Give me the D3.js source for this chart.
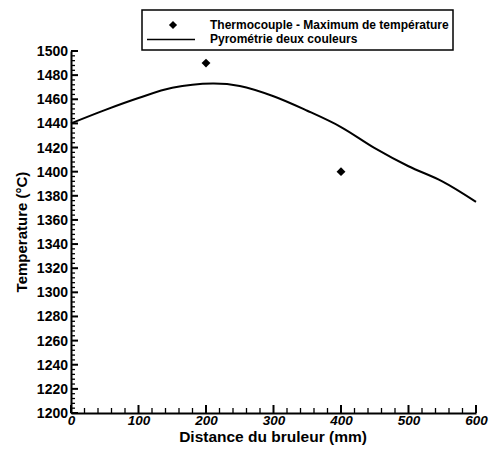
<!DOCTYPE html>
<html>
<head>
<meta charset="utf-8">
<script src="https://cdn.jsdelivr.net/npm/d3@7"></script>
<style>
  html, body { margin: 0; padding: 0; background: #fff; }
  svg { display: block; }
  text { font-family: "Liberation Sans", Arial, Helvetica, sans-serif; fill: #000; }
</style>
</head>
<body>
<script>
// Pyrometry profile (two-colour) along the burner axis
const pyroDistance = [0, 50, 100, 150, 210, 250, 300, 350, 400, 450, 500, 550, 600];
const pyroTemp     = [1440, 1451, 1461, 1469.5, 1473, 1471, 1462.5, 1450.5, 1437, 1419.5, 1404.5, 1392, 1375];

// Thermocouple maxima
const tcDistance = [200, 400];
const tcTemp     = [1490, 1400];

const xTicks = [0, 100, 200, 300, 400, 500, 600];
const yTicks = [1200, 1220, 1240, 1260, 1280, 1300, 1320, 1340, 1360, 1380, 1400, 1420, 1440, 1460, 1480, 1500];

const legendLabels = ["Thermocouple - Maximum de température", "Pyrométrie deux couleurs"];
const xTitle = "Distance du bruleur (mm)";
const yTitle = "Temperature (°C)";

const W = 490, H = 450;
const svg = d3.select("body").append("svg").attr("width", W).attr("height", H);

const x = d3.scaleLinear().domain([0, 600]).range([71, 476]);
const y = d3.scaleLinear().domain([1200, 1500]).range([413, 51]);

const x0 = x(0), y0 = y(1200);

// tick marks pointing into the plot: minor every 4 °C / 20 mm, major at labels
const yMinor = d3.range(1200, 1501, 4);
const xMinor = d3.range(0, 601, 20);
const ticks = svg.append("g").attr("stroke", "#000");
ticks.selectAll(".ym").data(yMinor).join("line")
  .attr("x1", x0).attr("x2", d => x0 + (yTicks.includes(d) ? 7 : 4))
  .attr("y1", d => y(d)).attr("y2", d => y(d))
  .attr("stroke-width", d => yTicks.includes(d) ? 2 : 1.3);
ticks.selectAll(".xm").data(xMinor).join("line")
  .attr("y1", y0).attr("y2", d => y0 - (xTicks.includes(d) ? 8 : 5))
  .attr("x1", d => x(d)).attr("x2", d => x(d))
  .attr("stroke-width", d => xTicks.includes(d) ? 2 : 1.3);

// axis lines and labels
const yAxis = svg.append("g")
  .attr("transform", `translate(${x0},0)`)
  .call(d3.axisLeft(y).tickValues(yTicks).tickSize(0).tickPadding(3).tickFormat(d3.format("d")));
yAxis.select(".domain").attr("stroke", "#000").attr("stroke-width", 2);
yAxis.selectAll("text").attr("font-size", 14).attr("font-weight", "bold")
  .attr("font-family", "'Liberation Sans', Arial, sans-serif").attr("fill", "#000");

const xAxis = svg.append("g")
  .attr("transform", `translate(0,${y0})`)
  .call(d3.axisBottom(x).tickValues(xTicks).tickSize(0).tickPadding(2).tickFormat(d3.format("d")));
xAxis.select(".domain").attr("stroke", "#000").attr("stroke-width", 2);
xAxis.selectAll("text").attr("font-size", 13.5).attr("font-weight", "bold").attr("font-style", "italic")
  .attr("font-family", "'Liberation Sans', Arial, sans-serif").attr("fill", "#000");

// axis titles
svg.append("text")
  .attr("x", 273).attr("y", 442)
  .attr("text-anchor", "middle")
  .attr("font-size", 15.5).attr("font-weight", "bold")
  .text(xTitle);
svg.append("text")
  .attr("transform", `translate(27,232) rotate(-90)`)
  .attr("text-anchor", "middle")
  .attr("font-size", 15).attr("font-weight", "bold")
  .text(yTitle);

// pyrometry curve
const line = d3.line()
  .x((d, i) => x(pyroDistance[i]))
  .y(d => y(d))
  .curve(d3.curveCatmullRom.alpha(0.5));
svg.append("path")
  .attr("d", line(pyroTemp))
  .attr("fill", "none").attr("stroke", "#000").attr("stroke-width", 2);

// thermocouple markers
const diamond = d3.symbol().type(d3.symbolDiamond2).size(50);
svg.selectAll(".tc")
  .data(tcTemp)
  .join("path")
  .attr("class", "tc")
  .attr("transform", (d, i) => `translate(${x(tcDistance[i])},${y(d)})`)
  .attr("d", diamond)
  .attr("fill", "#000");

// legend
const lg = svg.append("g");
lg.append("rect")
  .attr("x", 142).attr("y", 10).attr("width", 311).attr("height", 40)
  .attr("fill", "#fff").attr("stroke", "#000").attr("stroke-width", 1.5);
lg.append("path")
  .attr("transform", "translate(173,25)")
  .attr("d", d3.symbol().type(d3.symbolDiamond2).size(42))
  .attr("fill", "#000");
lg.append("line")
  .attr("x1", 147).attr("x2", 195).attr("y1", 39.5).attr("y2", 39.5)
  .attr("stroke", "#000").attr("stroke-width", 1.6);
lg.selectAll(".lt")
  .data(legendLabels)
  .join("text")
  .attr("class", "lt")
  .attr("x", 210)
  .attr("y", (d, i) => i === 0 ? 28.5 : 42.5)
  .attr("font-size", 12).attr("font-weight", "bold")
  .text(d => d);
</script>
</body>
</html>
